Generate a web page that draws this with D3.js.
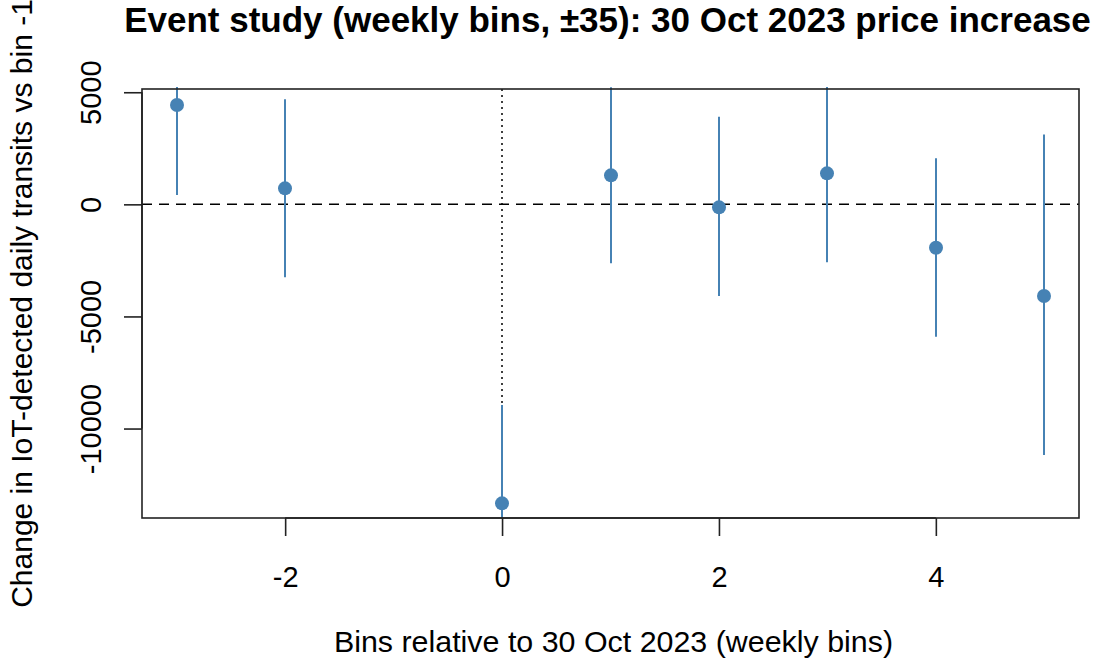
<!DOCTYPE html>
<html>
<head>
<meta charset="utf-8">
<script src="https://cdn.jsdelivr.net/npm/d3@7"></script>
<style>
  body { margin: 0; background: #fff; }
  svg { font-family: Arial, "Liberation Sans", sans-serif; }
</style>
</head>
<body>
<div id="chart_wrapper"></div>
<script>
// event-study estimates (bin -1 is the reference, so it is left out)
var bins = [-3, -2, 0, 1, 2, 3, 4, 5];
var estimates = [4429, 713, -13336, 1293, -134, 1383, -1936, -4090];
var lower = [415, -3257, -17720, -2632, -4090, -2587, -5905, -11182];
var upper = [8443, 4683, -8952, 5218, 3907, 5353, 2052, 3110];
var xTicks = [-2, 0, 2, 4];
var yTicks = [-10000, -5000, 0, 5000];

var title = "Event study (weekly bins, \u00b135): 30 Oct 2023 price increase";
var xLabel = "Bins relative to 30 Oct 2023 (weekly bins)";
var yLabel = "Change in IoT-detected daily transits vs bin -1";

var data = bins.map(function(b, i) {
    return { bin: b, est: estimates[i], lo: lower[i], hi: upper[i] };
});

var width = 1098, height = 658;
var margin = { left: 142, right: 19, top: 89, bottom: 140 };
var pw = width - margin.left - margin.right,
    ph = height - margin.top - margin.bottom;

var svg = d3.select("#chart_wrapper").append("svg")
    .attr("width", width).attr("height", height);

var x = d3.scaleLinear().domain([-3.32, 5.32]).range([0, pw]);
var y = d3.scaleLinear().domain([-13990, 5145]).range([ph, 0]);

var g = svg.append("g").attr("transform", "translate(" + margin.left + "," + margin.top + ")");

svg.append("defs").append("clipPath").attr("id", "plotclip")
    .append("rect").attr("x", 0).attr("y", -2).attr("width", pw).attr("height", ph + 2);

var inner = g.append("g").attr("clip-path", "url(#plotclip)");

// reference lines
inner.append("line")
    .attr("x1", 0).attr("x2", pw)
    .attr("y1", y(0)).attr("y2", y(0))
    .attr("stroke", "#000").attr("stroke-width", 1.5)
    .attr("stroke-dasharray", "10,7");

inner.append("line")
    .attr("x1", Math.round(x(0))).attr("x2", Math.round(x(0)))
    .attr("y1", 0).attr("y2", ph)
    .attr("stroke", "#000").attr("stroke-width", 1.5)
    .attr("stroke-dasharray", "2,4");

// confidence intervals
inner.selectAll(".ci").data(data).enter().append("line")
    .attr("class", "ci")
    .attr("x1", d => Math.round(x(d.bin))).attr("x2", d => Math.round(x(d.bin)))
    .attr("y1", d => y(d.lo)).attr("y2", d => y(d.hi))
    .attr("stroke", "steelblue").attr("stroke-width", 2);

// point estimates
inner.selectAll(".pt").data(data).enter().append("circle")
    .attr("class", "pt")
    .attr("cx", d => Math.round(x(d.bin))).attr("cy", d => y(d.est))
    .attr("r", 7)
    .attr("fill", "steelblue");

// box
g.append("rect")
    .attr("x", 0).attr("y", 0).attr("width", pw).attr("height", ph)
    .attr("fill", "none").attr("stroke", "#222").attr("stroke-width", 1.6);

// x axis
var xAxis = g.append("g").attr("transform", "translate(0," + ph + ")")
    .call(d3.axisBottom(x).tickValues(xTicks).tickSize(18).tickPadding(30).tickFormat(d3.format("d")));
xAxis.select(".domain")
    .attr("d", "M" + x(xTicks[0]) + ",0H" + x(xTicks[xTicks.length - 1]))
    .attr("stroke", "#222").attr("stroke-width", 1.6);
xAxis.selectAll(".tick line").attr("stroke", "#222").attr("stroke-width", 1.6);
xAxis.selectAll(".tick text").attr("font-size", 29).attr("fill", "#000")
    .text(d => d < 0 ? "-" + Math.abs(d) : d);

// y axis (labels parallel to axis, as in R)
var yAxis = g.append("g")
    .call(d3.axisLeft(y).tickValues(yTicks).tickSize(18).tickFormat(d3.format("d")));
yAxis.select(".domain")
    .attr("d", "M0," + y(yTicks[0]) + "V" + y(yTicks[yTicks.length - 1]))
    .attr("stroke", "#222").attr("stroke-width", 1.6);
yAxis.selectAll(".tick line").attr("stroke", "#222").attr("stroke-width", 1.6);
yAxis.selectAll(".tick text")
    .attr("font-size", 29).attr("fill", "#000")
    .attr("x", 0).attr("dy", null)
    .attr("text-anchor", "middle")
    .attr("transform", "translate(-41,0) rotate(-90)")
    .text(d => d < 0 ? "-" + Math.abs(d) : d);

// title and axis labels
svg.append("text")
    .attr("x", margin.left + pw / 2 - 3).attr("y", 32)
    .attr("text-anchor", "middle")
    .attr("font-size", 35).attr("font-weight", "bold")
    .text(title);

svg.append("text")
    .attr("x", margin.left + pw / 2 + 3).attr("y", 652)
    .attr("text-anchor", "middle")
    .attr("font-size", 30.4)
    .text(xLabel);

svg.append("text")
    .attr("transform", "translate(32," + (margin.top + ph / 2) + ") rotate(-90)")
    .attr("text-anchor", "middle")
    .attr("font-size", 30)
    .text(yLabel);
</script>
</body>
</html>
